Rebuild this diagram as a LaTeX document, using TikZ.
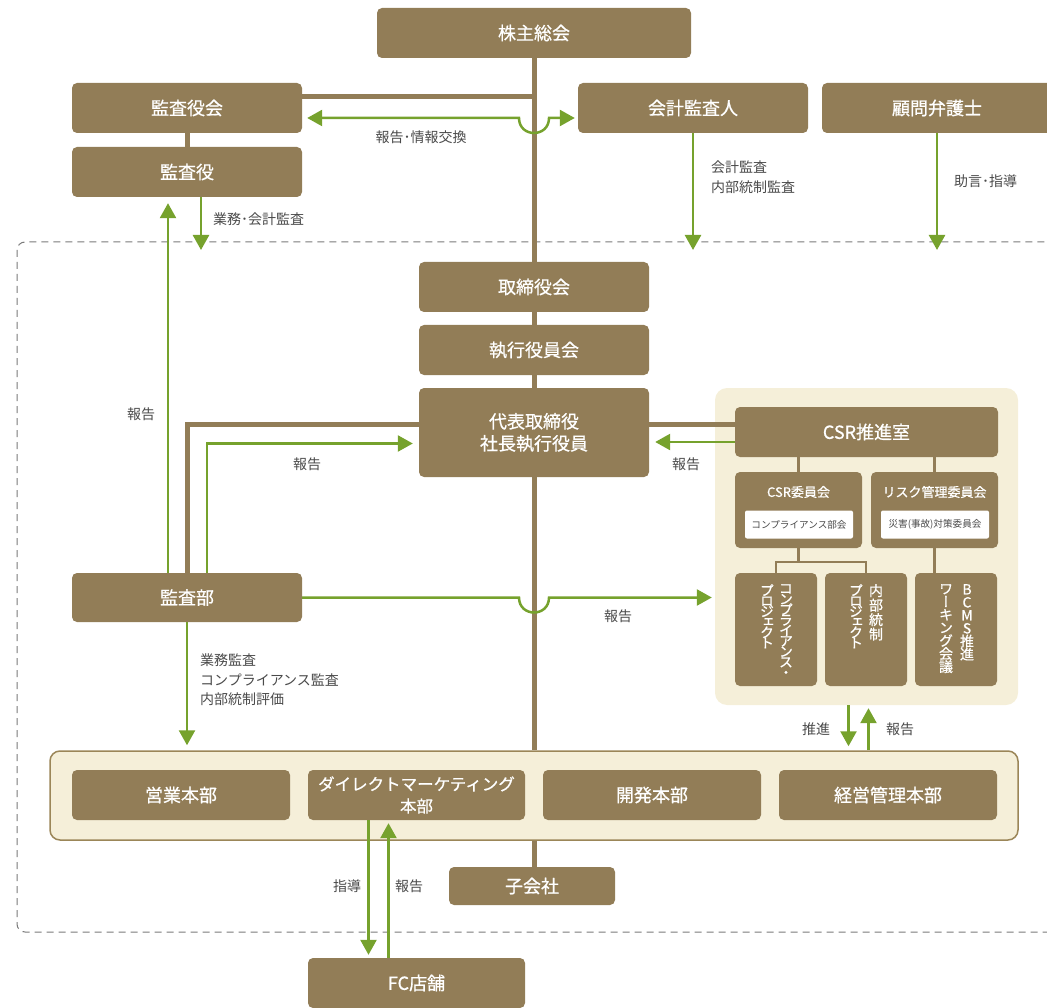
\documentclass[tikz,border=0pt]{standalone}
\usepackage{fontspec}
\setmainfont{Noto Sans CJK JP}
\newfontfamily\boxfont{Noto Sans CJK JP}[FakeBold=0.7]
\newfontfamily\vjfont{Noto Sans CJK JP}[RawFeature=+vert, FakeBold=0.7]
\usepackage{xcolor}
\usetikzlibrary{arrows.meta,calc}

\definecolor{boxbrown}{HTML}{927D57}
\definecolor{panelcream}{HTML}{F5EFD9}
\definecolor{panelline}{HTML}{9B8658}
\definecolor{linkgreen}{HTML}{76A22D}
\definecolor{labelgray}{HTML}{4A4A4A}
\definecolor{framegray}{HTML}{7A7A7A}

\newcommand{\tightlines}{\lineskiplimit=-100pt\relax}

\tikzset{
	orgbox/.style={rectangle, rounded corners=5pt, fill=boxbrown, text=white, inner sep=0pt, align=center,
		font=\boxfont\fontsize{18}{22}\selectfont},
	smallbox/.style={orgbox, font=\boxfont\fontsize{13}{15}\selectfont},
	whitebox/.style={rectangle, rounded corners=2pt, fill=white, text=labelgray, inner sep=0pt,
		minimum width=108pt, minimum height=28pt, font=\fontsize{9.6}{12}\selectfont},
	vcol/.style={text=white, inner sep=0pt, align=center, anchor=north,
		font=\vjfont\fontsize{14}{10.5}\selectfont\tightlines},
	panel/.style={rectangle, fill=panelcream, inner sep=0pt},
	trunk/.style={draw=boxbrown, line width=5pt},
	twig/.style={draw=boxbrown, line width=2.5pt},
	report/.style={draw=linkgreen, line width=2.5pt, -{Triangle[length=15pt,width=16pt]}},
	memo/.style={text=labelgray, inner sep=0pt, align=left, font=\fontsize{14}{19.5}\selectfont},
}

\begin{document}
\begin{tikzpicture}[x=1pt,y=-1pt]
	\useasboundingbox (0,0) rectangle (1047,1008);

	\draw[framegray, line width=1pt, dash pattern=on 7pt off 5pt, rounded corners=8pt] (17,242) rectangle (1080,932);
	\coordinate (frametop) at (17,250);

	\node[panel, rounded corners=12pt, minimum width=303pt, minimum height=317pt] (csrpanel) at (866.5,546.5) {};
	\node[panel, draw=panelline, line width=1.5pt, rounded corners=10pt, minimum width=968pt, minimum height=89pt] (bottom) at (534,795.5) {};

	\node[orgbox, minimum width=314pt, minimum height=50pt] (kabu) at (534,33) {株主総会};
	\node[orgbox, minimum width=230pt, minimum height=50pt] (kansayakukai) at (187,108) {監査役会};
	\node[orgbox, minimum width=230pt, minimum height=50pt] (kansayaku) at (187,172) {監査役};
	\node[orgbox, minimum width=230pt, minimum height=50pt] (kaikei) at (693,108) {会計監査人};
	\node[orgbox, minimum width=230pt, minimum height=50pt] (komon) at (937,108) {顧問弁護士};

	\draw[trunk] (kabu.south) -- (kabu.south |- bottom.north);
	\draw[trunk] (kabu.south |- bottom.south) -- (kabu.south |- 0,867);
	\draw[trunk] ([yshift=11pt]kansayakukai.east) -- ([yshift=11pt]kansayakukai.east -| kabu.south);
	\draw[trunk] (kansayakukai.south) -- (kansayaku.north);

	\node[orgbox, minimum width=230pt, minimum height=50pt] (torishimari) at (534,287) {取締役会};
	\node[orgbox, minimum width=230pt, minimum height=50pt] (shikko) at (534,350) {執行役員会};
	\node[orgbox, minimum width=230pt, minimum height=89pt] (daihyo) at (534,432.5) {代表取締役\\社長執行役員};

	\node[orgbox, minimum width=263pt, minimum height=50pt] (csr) at (866.5,432) {CSR推進室};
	\node[orgbox, minimum width=127pt, minimum height=76pt] (csrcomm) at (798.5,510) {};
	\node[orgbox, minimum width=127pt, minimum height=76pt] (risk) at (934.5,510) {};
	\node[smallbox] (csrcommtitle) at (798.5,492) {CSR委員会};
	\node[smallbox] (risktitle) at (934.5,492) {リスク管理委員会};
	\node[whitebox] (csrcommsub) at (799,524.5) {コンプライアンス部会};
	\node[whitebox] (risksub) at (935,524.5) {災害(事故)対策委員会};

	\node[orgbox, minimum width=82pt, minimum height=113pt] (proj1) at (776,629.5) {};
	\node[orgbox, minimum width=82pt, minimum height=113pt] (proj2) at (866,629.5) {};
	\node[orgbox, minimum width=82pt, minimum height=113pt] (bcms) at (956,629.5) {};
	\node[vcol] (proj1a) at (786,584) {コ\\ン\\プ\\ラ\\イ\\ア\\ン\\ス\\・};
	\node[vcol] (proj1b) at (767,584) {プ\\ロ\\ジ\\ェ\\ク\\ト};
	\node[vcol, font=\vjfont\fontsize{14}{14.5}\selectfont\tightlines] (proj2a) at (876,584) {内\\部\\統\\制};
	\node[vcol] (proj2b) at (856,584) {プ\\ロ\\ジ\\ェ\\ク\\ト};
	\node[vcol, font=\vjfont\fontsize{14}{13}\selectfont\tightlines] (bcmsa) at (967,584) {B\\C\\M\\S\\推\\進};
	\node[vcol, font=\vjfont\fontsize{14}{13}\selectfont\tightlines] (bcmsb) at (946,584) {ワ\\ー\\キ\\ン\\グ\\会\\議};

	\coordinate (split) at ($(csrcomm.south)+(0,14)$);
	\draw[twig] (csrcomm.north) -- (csrcomm.north |- csr.south);
	\draw[twig] (risk.north) -- (risk.north |- csr.south);
	\draw[twig] (csrcomm.south) -- (split);
	\draw[twig] (proj1.north) |- (split) -| (proj2.north);
	\draw[twig] (risk.south) -- (risk.south |- bcms.north);

	\node[orgbox, minimum width=230pt, minimum height=49pt] (kansabu) at (187,597.5) {監査部};
	\draw[trunk] ([yshift=8pt]daihyo.west) -| (kansabu.north);
	\draw[trunk] ([yshift=8pt]daihyo.east) -- ([yshift=8pt]daihyo.east -| csr.west);

	\node[orgbox, minimum width=218pt, minimum height=50pt] (eigyo) at (181,795) {営業本部};
	\node[orgbox, minimum width=217pt, minimum height=50pt, font=\boxfont\fontsize{16.5}{22}\selectfont] (dm) at (416.5,795) {ダイレクトマーケティング\\本部};
	\node[orgbox, minimum width=218pt, minimum height=50pt] (kaihatsu) at (652,795) {開発本部};
	\node[orgbox, minimum width=218pt, minimum height=50pt] (keiei) at (888,795) {経営管理本部};
	\node[orgbox, minimum width=166pt, minimum height=38pt] (kogaisha) at (532,886) {子会社};
	\node[orgbox, minimum width=217pt, minimum height=50pt] (fc) at (416.5,983) {FC店舗};

	\coordinate (ixL) at ([yshift=-10pt]kansayakukai.east);
	\coordinate (ixR) at ([yshift=-10pt]kaikei.west);
	\draw[report, {Triangle[length=15pt,width=16pt]}-{Triangle[length=15pt,width=16pt]}, shorten <=5pt, shorten >=3pt]
		(ixL) -- ($(ixL -| kabu.south)+(-15,0)$) .. controls +(0,20) and +(0,20) .. ($(ixL -| kabu.south)+(15,0)$) -- (ixR);
	\draw[report] (kaikei.south) -- (kaikei.south |- frametop);
	\draw[report] (komon.south) -- (komon.south |- frametop);
	\draw[report] ([xshift=14pt]kansayaku.south) -- ([xshift=14pt]kansayaku.south |- frametop);
	\draw[report, shorten >=6pt] ([xshift=-19pt]kansabu.north) -- ([xshift=-19pt]kansayaku.south);
	\draw[report, shorten >=6pt] ([xshift=20pt]kansabu.north) |- ([yshift=-11pt]daihyo.west);
	\draw[report, shorten >=6pt] ([yshift=-10pt]csr.west) -- ([yshift=-10pt]csr.west -| daihyo.east);
	\draw[report, shorten >=3pt] (kansabu.east) -- ($(kansabu.east -| kabu.south)+(-15,0)$)
		.. controls +(0,20) and +(0,20) .. ($(kansabu.east -| kabu.south)+(15,0)$) -- (kansabu.east -| csrpanel.west);
	\draw[report, shorten >=5pt] (kansabu.south) -- (kansabu.south |- bottom.north);
	\draw[report, shorten >=4pt] ([xshift=-18pt]csrpanel.south) -- ([xshift=-18pt]csrpanel.south |- bottom.north);
	\draw[report, shorten >=3pt] ([xshift=2pt]csrpanel.south |- bottom.north) -- ([xshift=2pt]csrpanel.south);
	\draw[report, shorten >=3pt] ([xshift=-48pt]dm.south) -- ([xshift=-48pt]dm.south |- fc.north);
	\draw[report, shorten >=3pt] ([xshift=-28pt]dm.south |- fc.north) -- ([xshift=-28pt]dm.south);

	\node[memo] (ixlabel) at (421,137) {報告･情報交換};
	\node[memo, anchor=west] (kansalabel) at (213,219) {業務･会計監査};
	\node[memo, anchor=north west] (kaikeilabel) at (711,161) {会計監査\\内部統制監査};
	\node[memo, anchor=west] (komonlabel) at (954,181) {助言･指導};
	\node[memo] (up1label) at (141,414) {報告};
	\node[memo] (up2label) at (307,464) {報告};
	\node[memo] (csrlabel) at (686,464) {報告};
	\node[memo] (rightlabel) at (618,616) {報告};
	\node[memo, anchor=north west] (downlabel) at (200,654) {業務監査\\コンプライアンス監査\\内部統制評価};
	\node[memo] (suishinlabel) at (816,729) {推進};
	\node[memo] (backlabel) at (900,729) {報告};
	\node[memo] (shidolabel) at (347,886) {指導};
	\node[memo] (fclabel) at (409,886) {報告};
\end{tikzpicture}
\end{document}
